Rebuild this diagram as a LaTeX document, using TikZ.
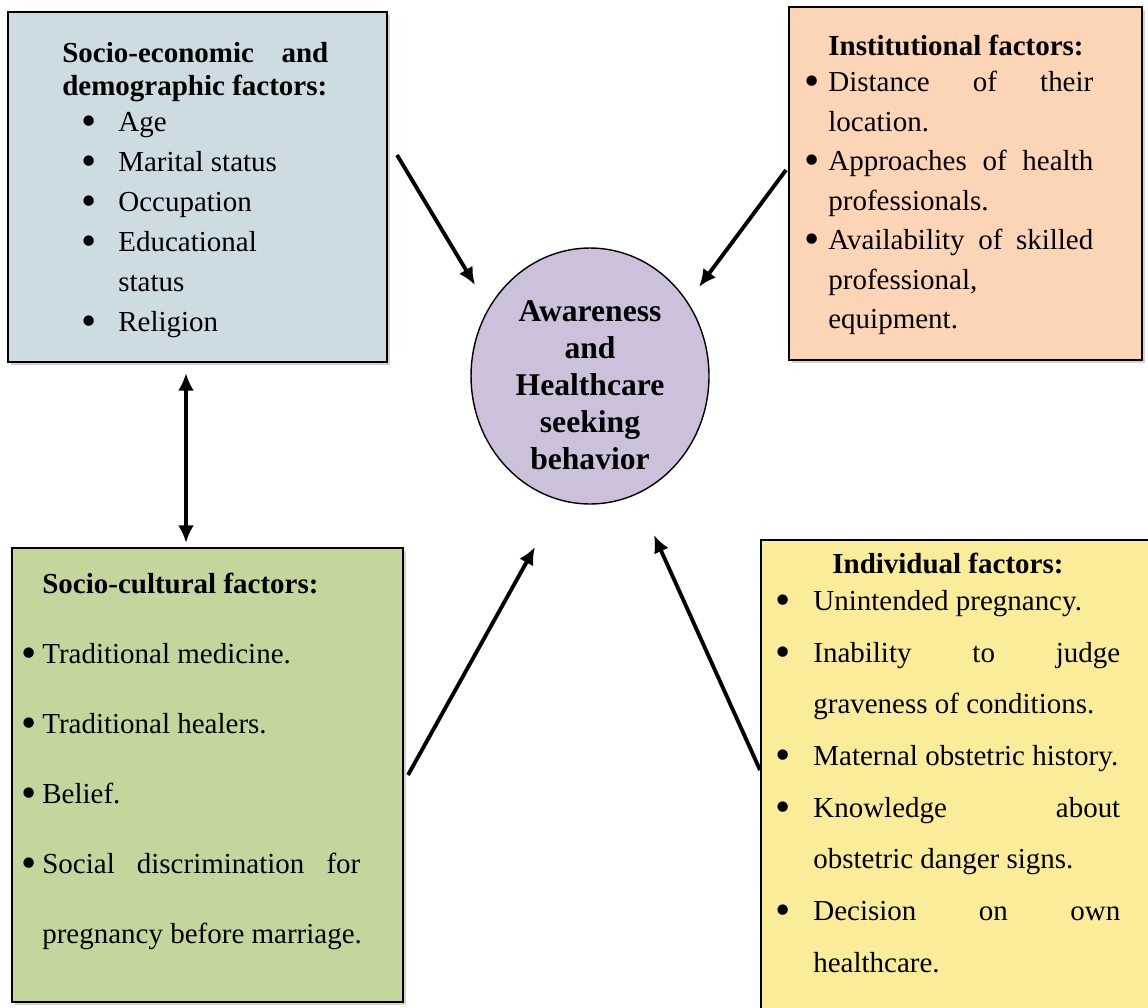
\documentclass[tikz,border=0pt]{standalone}
\usepackage{fontspec}
\setmainfont{Liberation Serif}
\usetikzlibrary{shapes.geometric,shadows,arrows.meta}
\definecolor{econfill}{RGB}{205,219,226}
\definecolor{instfill}{RGB}{251,213,181}
\definecolor{cultfill}{RGB}{195,214,155}
\definecolor{indfill}{RGB}{250,236,152}
\definecolor{corefill}{RGB}{204,192,218}
\newcommand{\bigdot}{\raisebox{-0.14em}{\scalebox{1.5}{\textbullet}}}
\newcommand{\bl}[2]{\makebox[#1][l]{\bigdot}#2}
\newcommand{\spread}[2]{\makebox[#1][s]{#2}}
\tikzstyle{factorbox} = [rectangle, draw, line width=0.8pt, inner sep=0pt, drop shadow={shadow xshift=1.5pt, shadow yshift=-1.5pt, opacity=0.35}]
\tikzstyle{core} = [ellipse, draw, line width=0.8pt, fill=corefill, inner sep=0pt, minimum width=4.76cm, minimum height=5.12cm]
\tikzstyle{coretext} = [inner sep=0pt, align=center, font=\bfseries\fontsize{18}{21}\selectfont]
\tikzstyle{txt} = [anchor=north west, inner sep=0pt, align=left]
\tikzstyle{link} = [line width=2.2pt]

\begin{document}
\begin{tikzpicture}[x=0.02cm, y=-0.02cm, >={Latex[length=10pt,width=9pt]}]
        \useasboundingbox (0,0) rectangle (1148,1007);

        \node[factorbox, fill=econfill, minimum width=7.58cm, minimum height=7cm] (econ) at (197.5,187) {};
        \node[factorbox, fill=instfill, minimum width=7.06cm, minimum height=7.06cm] (inst) at (965.5,183.5) {};
        \node[factorbox, fill=cultfill, minimum width=7.82cm, minimum height=9.08cm] (cult) at (207.5,775) {};
        \node[factorbox, fill=indfill, minimum width=7.82cm, minimum height=9.44cm] (ind) at (956.5,776) {};
        \node[core] (core) at (590,376) {};
        \node[coretext] (coretxt) at (590,385) {Awareness\\and\\Healthcare\\seeking\\behavior};

        \node[txt, font=\fontsize{16.5}{22.76}\selectfont] (econtxt) at (62,42) {%
            \spread{5.32cm}{\bfseries Socio-economic and}\\[-0.14cm]
            \textbf{demographic factors:}\\[-0.08cm]
            \hspace*{0.38cm}\bl{0.74cm}{Age}\\
            \hspace*{0.38cm}\bl{0.74cm}{Marital status}\\
            \hspace*{0.38cm}\bl{0.74cm}{Occupation}\\
            \hspace*{0.38cm}\bl{0.74cm}{Educational}\\
            \hspace*{1.12cm}status\\
            \hspace*{0.38cm}\bl{0.74cm}{Religion}};
        \node[txt, font=\fontsize{16.5}{22.5}\selectfont] (insttxt) at (804,35) {%
            \hspace*{0.48cm}\textbf{Institutional factors:}\\[-0.07cm]
            \bl{0.48cm}{\spread{5.3cm}{Distance of their}}\\
            \hspace*{0.48cm}location.\\
            \bl{0.48cm}{\spread{5.3cm}{Approaches of health}}\\
            \hspace*{0.48cm}professionals.\\
            \bl{0.48cm}{\spread{5.3cm}{Availability of skilled}}\\
            \hspace*{0.48cm}professional,\\
            \hspace*{0.48cm}equipment.};
        \node[txt, font=\fontsize{16.5}{39.83}\selectfont] (culttxt) at (21,573) {%
            \hspace*{0.42cm}\textbf{Socio-cultural factors:}\\
            \bl{0.42cm}{Traditional medicine.}\\
            \bl{0.42cm}{Traditional healers.}\\
            \bl{0.42cm}{Belief.}\\
            \bl{0.42cm}{\spread{6.36cm}{Social discrimination for}}\\
            \hspace*{0.42cm}pregnancy before marriage.};
        \node[txt, font=\fontsize{16.5}{29.4}\selectfont] (indtxt) at (775,553) {%
            \hspace*{1.14cm}\textbf{Individual factors:}\\[-0.3cm]
            \bl{0.76cm}{Unintended pregnancy.}\\
            \bl{0.76cm}{\spread{6.14cm}{Inability to judge}}\\
            \hspace*{0.76cm}graveness of conditions.\\
            \bl{0.76cm}{Maternal obstetric history.}\\
            \bl{0.76cm}{\spread{6.14cm}{Knowledge about}}\\
            \hspace*{0.76cm}obstetric danger signs.\\
            \bl{0.76cm}{\spread{6.14cm}{Decision on own}}\\
            \hspace*{0.76cm}healthcare.};

        \coordinate (econout) at (397,155);
        \coordinate (econin) at (475,285);
        \coordinate (instout) at (786,170);
        \coordinate (instin) at (699,287);
        \coordinate (cultout) at (408,775);
        \coordinate (cultin) at (535,547);
        \coordinate (indout) at (760,770);
        \coordinate (indin) at (654,535);
        \coordinate (econlow) at (186,373);
        \coordinate (culthigh) at (186,543);

        \draw[link, ->] (econout) -- (econin);
        \draw[link, ->] (instout) -- (instin);
        \draw[link, ->] (cultout) -- (cultin);
        \draw[link, ->] (indout) -- (indin);
        \draw[link, <->] (econlow) -- (culthigh);
    \end{tikzpicture}
\end{document}
